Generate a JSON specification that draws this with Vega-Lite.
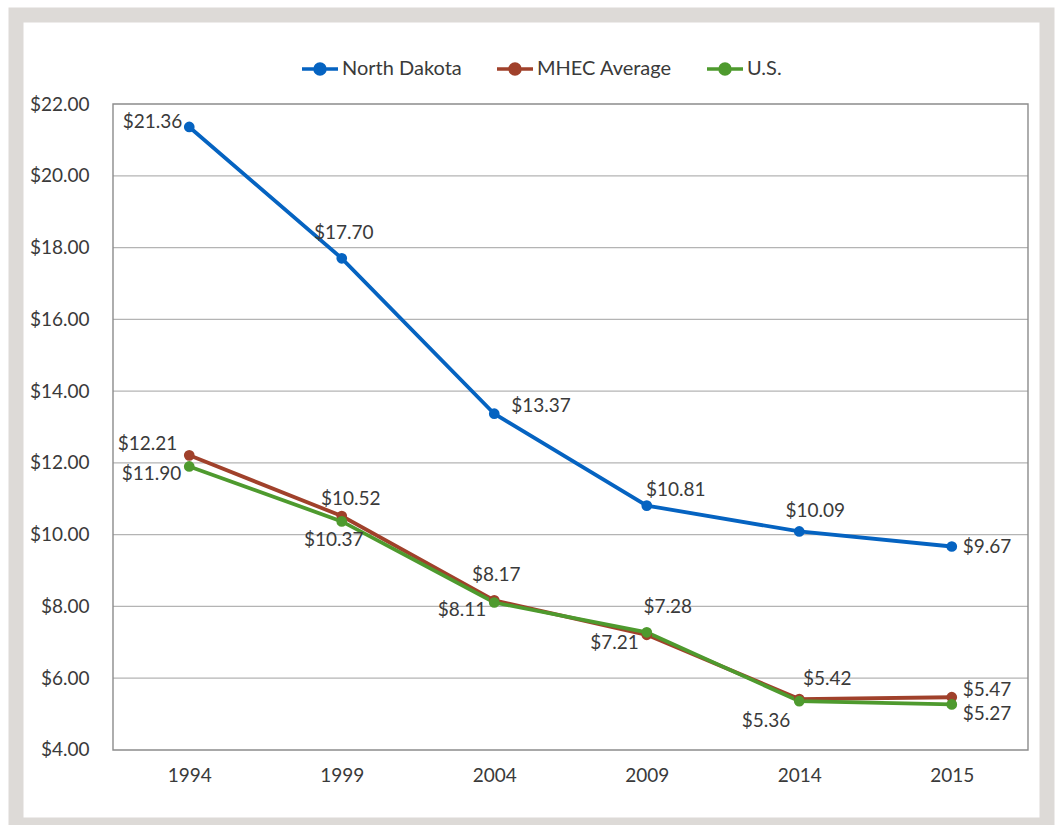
{
  "$schema": "https://vega.github.io/schema/vega-lite/v6.json",
  "width": 1060,
  "height": 825,
  "autosize": {"type": "fit", "contains": "padding"},
  "padding": {"left": 16, "top": 15, "right": 13, "bottom": 0},
  "background": "white",
  "config": {
    "view": {"stroke": "#dddad7", "strokeWidth": 15, "fill": "white"},
    "font": "Lato",
    "text": {"font": "Lato", "fontSize": 19, "color": "#3a3a3a", "baseline": "middle"}
  },
  "datasets": {
    "main": [
      {"s": "North Dakota", "year": "1994", "v": 21.36},
      {"s": "North Dakota", "year": "1999", "v": 17.70},
      {"s": "North Dakota", "year": "2004", "v": 13.37},
      {"s": "North Dakota", "year": "2009", "v": 10.81},
      {"s": "North Dakota", "year": "2014", "v": 10.09},
      {"s": "North Dakota", "year": "2015", "v": 9.67},
      {"s": "MHEC Average", "year": "1994", "v": 12.21},
      {"s": "MHEC Average", "year": "1999", "v": 10.52},
      {"s": "MHEC Average", "year": "2004", "v": 8.17},
      {"s": "MHEC Average", "year": "2009", "v": 7.21},
      {"s": "MHEC Average", "year": "2014", "v": 5.42},
      {"s": "MHEC Average", "year": "2015", "v": 5.47},
      {"s": "U.S.", "year": "1994", "v": 11.90},
      {"s": "U.S.", "year": "1999", "v": 10.37},
      {"s": "U.S.", "year": "2004", "v": 8.11},
      {"s": "U.S.", "year": "2009", "v": 7.28},
      {"s": "U.S.", "year": "2014", "v": 5.36},
      {"s": "U.S.", "year": "2015", "v": 5.27}
    ],
    "grid": [{"v": 6}, {"v": 8}, {"v": 10}, {"v": 12}, {"v": 14}, {"v": 16}, {"v": 18}, {"v": 20}],
    "frame": [{"v": 4, "hi": 22}]
  },
  "layer": [
    {
      "layer": [
        {
          "data": {"name": "grid"},
          "mark": {"type": "rule", "color": "#b4b4b4", "strokeWidth": 1.3},
          "encoding": {
            "x": {"datum": 0, "type": "quantitative", "scale": {"domain": [-0.10601, 1.02077], "nice": false, "zero": false}, "axis": null},
            "x2": {"datum": 1},
            "y": {"field": "v", "type": "quantitative", "scale": {"domain": [1.91, 24.48], "nice": false, "zero": false},
                  "axis": {"orient": "left", "offset": -97, "values": [4, 6, 8, 10, 12, 14, 16, 18, 20, 22], "format": "$.2f", "domain": false, "ticks": false, "tickSize": 0, "grid": false, "labelPadding": 24, "labelFont": "Lato", "labelFontSize": 19, "labelColor": "#3a3a3a", "title": null}}
          }
        },
        {
          "data": {"name": "frame"},
          "mark": {"type": "rect", "fill": null, "fillOpacity": 0, "stroke": "#8c8c8c", "strokeWidth": 1.4},
          "encoding": {
            "x": {"datum": 0, "type": "quantitative", "axis": null},
            "x2": {"datum": 1},
            "y": {"field": "v", "type": "quantitative",
                  "axis": {"orient": "left", "offset": -97, "values": [4, 6, 8, 10, 12, 14, 16, 18, 20, 22], "format": "$.2f", "domain": false, "ticks": false, "tickSize": 0, "grid": false, "labelPadding": 24, "labelFont": "Lato", "labelFontSize": 19, "labelColor": "#3a3a3a", "title": null}},
            "y2": {"field": "hi"}
          }
        }
      ]
    },
    {
      "data": {"name": "main"},
      "encoding": {
        "x": {"field": "year", "type": "ordinal", "scale": {"type": "point", "padding": 0.8803, "align": 0.6453},
              "axis": {"orient": "bottom", "offset": -75, "domain": false, "ticks": false, "tickSize": 0, "grid": false, "labelPadding": 16, "labelAngle": 0, "labelFont": "Lato", "labelFontSize": 19, "labelColor": "#3a3a3a", "title": null}},
        "y": {"field": "v", "type": "quantitative",
              "axis": {"orient": "left", "offset": -97, "values": [4, 6, 8, 10, 12, 14, 16, 18, 20, 22], "format": "$.2f", "domain": false, "ticks": false, "tickSize": 0, "grid": false, "labelPadding": 24, "labelFont": "Lato", "labelFontSize": 19, "labelColor": "#3a3a3a", "title": null}}
      },
      "layer": [
        {
          "mark": {"type": "line", "strokeWidth": 3.8},
          "encoding": {
            "color": {"field": "s", "type": "nominal",
              "scale": {"domain": ["North Dakota", "MHEC Average", "U.S."], "range": ["#0563C1", "#A0412B", "#4E9A2E"]},
              "legend": {"orient": "none", "legendX": 292, "legendY": 42, "direction": "horizontal", "columns": 3, "title": null,
                "symbolType": "M-1.8,0L1.8,0M0.5,0A0.5,0.5,0,1,1,-0.5,0A0.5,0.5,0,1,1,0.5,0Z",
                "symbolSize": 400, "symbolStrokeWidth": 3.5, "labelFont": "Lato", "labelFontSize": 20, "labelColor": "#3a3a3a",
                "labelOffset": 10, "columnPadding": 28, "padding": 0,
                "encode": {"symbols": {"update": {"fill": {"scale": "color", "field": "value"}, "stroke": {"scale": "color", "field": "value"}, "opacity": {"value": 1}}}}}
            },
            "order": {"field": "year"}
          }
        },
        {
          "mark": {"type": "circle", "size": 115, "opacity": 1},
          "encoding": {"color": {"field": "s", "type": "nominal"}}
        },
        {"transform": [{"filter": "datum.s==='North Dakota' && datum.year==='1994'"}], "mark": {"type": "text", "align": "right", "dx": -7, "dy": -5}, "encoding": {"text": {"field": "v", "type": "quantitative", "format": "$.2f"}}},
        {"transform": [{"filter": "(datum.s==='U.S.' && (datum.year==='1994' || datum.year==='2004')) || (datum.s==='MHEC Average' && datum.year==='2009')"}], "mark": {"type": "text", "align": "right", "dx": -8, "dy": 8}, "encoding": {"text": {"field": "v", "type": "quantitative", "format": "$.2f"}}},
        {"transform": [{"filter": "datum.s==='MHEC Average' && datum.year==='1994'"}], "mark": {"type": "text", "align": "right", "dx": -12, "dy": -11}, "encoding": {"text": {"field": "v", "type": "quantitative", "format": "$.2f"}}},
        {"transform": [{"filter": "datum.s==='U.S.' && datum.year==='2014'"}], "mark": {"type": "text", "align": "right", "dx": -9, "dy": 20}, "encoding": {"text": {"field": "v", "type": "quantitative", "format": "$.2f"}}},
        {"transform": [{"filter": "(datum.s==='North Dakota' && datum.year==='1999') || (datum.s==='MHEC Average' && datum.year==='2004')"}], "mark": {"type": "text", "align": "center", "dx": 2, "dy": -25}, "encoding": {"text": {"field": "v", "type": "quantitative", "format": "$.2f"}}},
        {"transform": [{"filter": "datum.s==='U.S.' && datum.year==='2009'"}], "mark": {"type": "text", "align": "center", "dx": 21, "dy": -25}, "encoding": {"text": {"field": "v", "type": "quantitative", "format": "$.2f"}}},
        {"transform": [{"filter": "datum.s==='MHEC Average' && datum.year==='1999'"}], "mark": {"type": "text", "align": "center", "dx": 9, "dy": -17}, "encoding": {"text": {"field": "v", "type": "quantitative", "format": "$.2f"}}},
        {"transform": [{"filter": "datum.s==='U.S.' && datum.year==='1999'"}], "mark": {"type": "text", "align": "center", "dx": -8, "dy": 19}, "encoding": {"text": {"field": "v", "type": "quantitative", "format": "$.2f"}}},
        {"transform": [{"filter": "datum.s==='North Dakota' && datum.year==='2004'"}], "mark": {"type": "text", "align": "left", "dx": 17, "dy": -8}, "encoding": {"text": {"field": "v", "type": "quantitative", "format": "$.2f"}}},
        {"transform": [{"filter": "datum.s==='North Dakota' && datum.year==='2009'"}], "mark": {"type": "text", "align": "center", "dx": 29, "dy": -16}, "encoding": {"text": {"field": "v", "type": "quantitative", "format": "$.2f"}}},
        {"transform": [{"filter": "datum.s==='North Dakota' && datum.year==='2014'"}], "mark": {"type": "text", "align": "center", "dx": 16, "dy": -20}, "encoding": {"text": {"field": "v", "type": "quantitative", "format": "$.2f"}}},
        {"transform": [{"filter": "datum.s==='MHEC Average' && datum.year==='2014'"}], "mark": {"type": "text", "align": "center", "dx": 28, "dy": -20}, "encoding": {"text": {"field": "v", "type": "quantitative", "format": "$.2f"}}},
        {"transform": [{"filter": "datum.s==='North Dakota' && datum.year==='2015'"}], "mark": {"type": "text", "align": "left", "dx": 11, "dy": 0}, "encoding": {"text": {"field": "v", "type": "quantitative", "format": "$.2f"}}},
        {"transform": [{"filter": "datum.s==='MHEC Average' && datum.year==='2015'"}], "mark": {"type": "text", "align": "left", "dx": 11, "dy": -7}, "encoding": {"text": {"field": "v", "type": "quantitative", "format": "$.2f"}}},
        {"transform": [{"filter": "datum.s==='U.S.' && datum.year==='2015'"}], "mark": {"type": "text", "align": "left", "dx": 11, "dy": 10}, "encoding": {"text": {"field": "v", "type": "quantitative", "format": "$.2f"}}}
      ]
    }
  ],
  "resolve": {"scale": {"x": "independent"}}
}
